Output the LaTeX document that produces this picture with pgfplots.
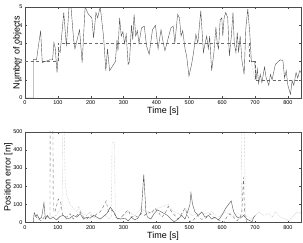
\documentclass[border=0pt]{standalone}
\usepackage{fontspec}
\setmainfont{Liberation Sans}
\usepackage{pgfplots}
\pgfplotsset{compat=1.18}
\definecolor{cSolid}{gray}{0.33}
\definecolor{cDash}{gray}{0.42}
\definecolor{cDot}{gray}{0.65}
\pgfplotsset{
  mystyle/.style={
    scale only axis,
    width=276pt, height=91pt,
    xmin=0, xmax=840,
    xtick={0,100,...,800},
    tick align=inside,
    major tick length=2pt,
    axis line style={gray!60!black, line width=0.4pt},
    tick style={gray!60!black, line width=0.4pt},
    tick label style={font=\fontsize{5.5}{6}\selectfont},
    /pgf/number format/assume math mode=true,
    label style={font=\fontsize{9}{10}\selectfont},
    xlabel={Time [s]},
    xlabel style={yshift=4pt},
    xticklabel style={yshift=1pt},
    yticklabel style={xshift=1pt},
    every axis plot/.append style={line width=0.4pt},
  }
}
\begin{document}
\begin{tikzpicture}
\useasboundingbox (0,0) rectangle (303pt,243pt);
\begin{axis}[mystyle, at={(25pt,145pt)}, anchor=south west,
  ymin=0, ymax=5, ytick={0,1,...,5},
  ylabel={Number of objects}, ylabel style={yshift=-9pt}]
\addplot[cDash, dash pattern=on 3pt off 2.5pt] coordinates {(0,2) (100,2) (100,3) (682,3) (682,2) (700,2) (700,1) (840,1)};
\addplot[cDot, densely dotted] coordinates {(678,3) (699,1)};
\addplot[cSolid] coordinates {
(0,0) (25,0) (25,2.13) (35,2.1) (42,3.0) (47.5,3.7) (52.6,1.95) (61,2.0) (76,2.1) (84,2.1)
(88,3.05) (92,2.75) (97.5,1.4) (102.6,2.65) (107,2.5) (118,4.7) (126,2.85) (134,5) (140,5)
(148,3.2) (152,2.7) (166,3.75) (174,1.95) (183,5) (193,4.6) (203.5,4.4) (208.6,3.3) (216,4.7)
(221,4.4) (229,5) (239,3.4) (246,1.5) (251,2.7) (257.5,1.5) (275,2.0) (280,3.2) (283,2.6)
(288,4.4) (293,3.4) (298,3.65) (303,3.0) (308,3.5) (314,1.85) (318,2.0) (324,4.0) (328,3.2)
(332,4.6) (337,3.4) (342,3.7) (347,3.0) (354.5,3.85) (363,3.95) (370,2.85) (378,2.4) (388,3.75)
(397,4.0) (405,2.7) (414,3.75) (421,3.0) (426,2.6) (436,3.3) (444,3.85) (451,3.95) (456,3.0)
(464.5,4.6) (470,4.4) (475,3.4) (480,3.7) (487,2.7) (492,2.3) (499,1.2) (507,1.85) (513,2.5)
(520,3.5) (526,3.0) (535,4.8) (543,2.5) (548,3.0) (553,3.4) (558,2.7) (562,3.4) (568,1.5)
(575,2.5) (581,3.9) (585,3.0) (589,2.7) (594,4.3) (599,4.4) (602,3.4) (606,4.4) (611,4.7)
(617,4.4) (622,2.3) (628,3.4) (633,4.7) (637,3.0) (642,2.5) (646,3.6) (650,2.5) (655,3.4)
(660,2.1) (667,1.3) (672,3.8) (678,4.9) (684,3.6) (689,2.0) (699,2.0) (703,1.0) (707,1.6)
(711,0.8) (716,1.3) (721,0.85) (729,1.7) (734,1.1) (742,0.7) (747,1.3) (752,1.0) (762,1.85)
(777,2.1) (785,2.05) (790,1.1) (795,1.5) (800,0.7) (808,0.2) (813,0.95) (818,0.7) (825,1.4)
(830,1.1) (836,1.5) (840,1.4)};
\end{axis}
\begin{axis}[mystyle, at={(25pt,20.3pt)}, anchor=south west,
  ymin=0, ymax=500, ytick={0,100,...,500},
  ylabel={Position error [m]}, ylabel style={yshift=-6pt}]
\addplot[cDot, densely dotted] coordinates {
(35,30) (55,20) (76,30) (96,40) (107,80) (113,90) (115,520) (120,520) (122,220) (127,150)
(137,100) (147,80) (158,60) (163,90) (173,50) (188,40) (198,60) (209,30) (229,20) (244,40)
(254,20) (263,30) (265,440) (272,440) (275,30) (290,20) (293,30) (314,60) (334,40) (354,80)
(375,50) (405,80) (436,100) (446,70) (456,60) (477,40) (487,80) (507,40) (528,50) (548,50)
(568,60) (589,30) (609,60) (630,40) (650,30) (658,40) (660,520) (668,520) (670,40) (691,20)
(711,60) (726,40) (742,50) (752,30) (762,60) (777,30) (793,20) (803,10) (813,30) (828,60)
(838,50) (841,70)};
\addplot[cDash, dash pattern=on 3pt off 2.5pt] coordinates {
(30,40) (40,20) (50,10) (62,40) (72,30) (76,30) (76.5,520) (85,520) (86,60) (91,60)
(101.5,130) (109,110) (115,40) (127,30) (137,50) (147,20) (158,40) (168,60) (178,30) (188,20)
(198,40) (209,30) (219,50) (229,60) (239,90) (247,120) (254,60) (265,70) (275,40) (283,20)
(293,30) (303,50) (314,70) (324,30) (334,40) (344,30) (354,50) (364,40) (375,60) (385,50)
(395,80) (405,60) (416,30) (426,50) (436,90) (446,60) (456,40) (466,20) (477,50) (487,80)
(497,30) (505,0) (515,20) (526,40) (536,20) (548,20) (563,50) (573,30) (584,20) (604,0)
(614,30) (624,50) (635,30) (645,10) (655,30) (660,60) (665,250) (668,50) (675,0)};
\addplot[cSolid] coordinates {
(25,0) (28,55) (33,35) (37,45) (43.4,20) (50.6,30) (57.7,110) (62,20) (68,40) (76,20)
(86,30) (96,15) (107,35) (117,40) (127,20) (137,25) (147,40) (158,30) (168,50) (178,20)
(188,30) (198,25) (209,40) (219,30) (229,20) (239,35) (249,50) (259.5,85) (270,60) (280,25)
(290,20) (303,25) (314,10) (324,30) (334,15) (344,25) (354,60) (361.5,265) (368,60) (373,30)
(383,20) (393,50) (403,70) (414,60) (424,50) (434,40) (444,20) (454,5) (466,20) (477,40)
(487,20) (495,60) (502,100) (505,165) (510,100) (517,60) (528,40) (538,60) (548,30) (558,40)
(568,20) (578,30) (589,15) (599,40) (611,80) (627.5,120) (635,60) (645,30) (655,25) (665,40)
(675,20) (686,10) (691,5) (696,30) (701,40)};
\end{axis}
\end{tikzpicture}
\end{document}
